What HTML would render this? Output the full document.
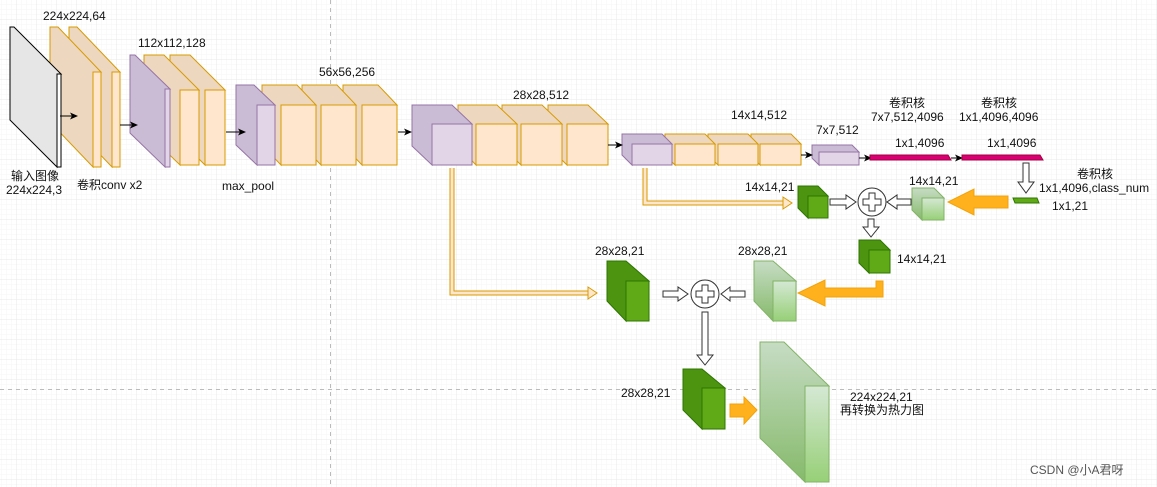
<!DOCTYPE html>
<html><head><meta charset="utf-8"><style>
body{margin:0;background:#fff}
svg{display:block}
text{font-family:"Liberation Sans","Noto Sans CJK SC",sans-serif;font-size:12px;fill:#111}
</style></head><body>
<svg width="1157" height="487" viewBox="0 0 1157 487" xmlns="http://www.w3.org/2000/svg">
<defs>
<pattern id="minor" x="-3" y="0" width="5" height="5" patternUnits="userSpaceOnUse"><path d="M5 0V5M0 5H5" stroke="#f6f6f6" stroke-width="1" fill="none"/></pattern>
<pattern id="major" x="-3" y="0" width="20" height="20" patternUnits="userSpaceOnUse"><path d="M20 0V20M0 20H20" stroke="#e8e8e8" stroke-width="1" fill="none"/></pattern>
<linearGradient id="lg" x1="0" y1="0" x2="0" y2="1"><stop offset="0" stop-color="#d5e8d4"/><stop offset="1" stop-color="#97d077"/></linearGradient>
<linearGradient id="lgs" x1="0" y1="0" x2="0" y2="1"><stop offset="0" stop-color="#c6dcc4"/><stop offset="1" stop-color="#86ba6b"/></linearGradient>
<marker id="ah" markerWidth="8" markerHeight="8" refX="7" refY="4" orient="auto" markerUnits="userSpaceOnUse"><path d="M0,0.5 L8,4 L0,7.5 L2,4z" fill="#000"/></marker>
</defs>
<rect width="1157" height="487" fill="url(#minor)"/>
<rect width="1157" height="487" fill="url(#major)"/>
<line x1="330.5" y1="0" x2="330.5" y2="487" stroke="#bbb" stroke-dasharray="4,4"/>
<line x1="0" y1="389.5" x2="1157" y2="389.5" stroke="#bbb" stroke-dasharray="4,4"/>

<g stroke="#d79b00" stroke-width="1">
<!-- pool6 -->
<polygon points="812,145 852,145 859,152 819,152 819,165 812,158" fill="#cbbcd5" stroke="#9673a6"/><rect x="819" y="152" width="40" height="13" fill="#e1d5e7" stroke="#9673a6"/>
<!-- block5 reversed -->
<polygon points="751,134 791,134 801,144 760,144 760,165 751,155" fill="#eed7bf"/><rect x="760" y="144" width="41" height="21" fill="#ffe6cc"/>
<polygon points="708,134 748,134 758,144 718,144 718,165 708,155" fill="#eed7bf"/><rect x="718" y="144" width="40" height="21" fill="#ffe6cc"/>
<polygon points="665,134 705,134 715,144 675,144 675,165 665,155" fill="#eed7bf"/><rect x="675" y="144" width="40" height="21" fill="#ffe6cc"/>
<polygon points="622,134 662,134 672,144 632,144 632,165 622,155" fill="#cbbcd5" stroke="#9673a6"/><rect x="632" y="144" width="40" height="21" fill="#e1d5e7" stroke="#9673a6"/>
<!-- block4 reversed -->
<polygon points="548,105 588,105 608,124 567,124 567,165 548,146" fill="#eed7bf"/><rect x="567" y="124" width="41" height="41" fill="#ffe6cc"/>
<polygon points="502,105 542,105 562,124 521,124 521,165 502,146" fill="#eed7bf"/><rect x="521" y="124" width="41" height="41" fill="#ffe6cc"/>
<polygon points="458,105 497,105 517,124 476,124 476,165 458,146" fill="#eed7bf"/><rect x="476" y="124" width="41" height="41" fill="#ffe6cc"/>
<polygon points="412,105 452,105 472,124 432,124 432,165 412,146" fill="#cbbcd5" stroke="#9673a6"/><rect x="432" y="124" width="40" height="41" fill="#e1d5e7" stroke="#9673a6"/>
<!-- block3 reversed -->
<polygon points="343,85 378,85 397,105 362,105 362,165 343,145" fill="#eed7bf"/><rect x="362" y="105" width="35" height="60" fill="#ffe6cc"/>
<polygon points="302,85 337,85 356,105 321,105 321,165 302,145" fill="#eed7bf"/><rect x="321" y="105" width="35" height="60" fill="#ffe6cc"/>
<polygon points="262,85 297,85 316,105 281,105 281,165 262,145" fill="#eed7bf"/><rect x="281" y="105" width="35" height="60" fill="#ffe6cc"/>
<polygon points="236,85 254,85 275,105 257,105 257,165 236,145" fill="#cbbcd5" stroke="#9673a6"/><rect x="257" y="105" width="18" height="60" fill="#e1d5e7" stroke="#9673a6"/>
<!-- block2 reversed -->
<polygon points="170,55 190,55 225,90 205,90 205,165 170,130" fill="#eed7bf"/><rect x="205" y="90" width="20" height="75" fill="#ffe6cc"/>
<polygon points="144,55 164,55 199,90 180,90 180,165 144,130" fill="#eed7bf"/><rect x="180" y="90" width="19" height="75" fill="#ffe6cc"/>
<polygon points="130,55 135,55 170,89 165,89 165,167 130,133" fill="#cbbcd5" stroke="#9673a6"/><rect x="165" y="89" width="5" height="78" fill="#e1d5e7" stroke="#9673a6"/>
<!-- conv1 reversed -->
<polygon points="69,27 77,27 120,72 112,72 112,167 69,122" fill="#eed7bf"/><rect x="112" y="72" width="8" height="95" fill="#ffe6cc"/>
<polygon points="50,27 58,27 101,72 93,72 93,167 50,122" fill="#eed7bf"/><rect x="93" y="72" width="8" height="95" fill="#ffe6cc"/>
</g>
<!-- input -->
<polygon points="10,27 14,27 61,74 57,74 57,167 10,120" fill="#e6e6e6" stroke="#000"/>
<rect x="57" y="74" width="4" height="93" fill="#fff" stroke="#000"/>

<!-- black arrows -->
<g stroke="#000" stroke-width="1" marker-end="url(#ah)">
<line x1="60" y1="116" x2="77" y2="116"/>
<line x1="120" y1="125" x2="137" y2="125"/>
<line x1="226" y1="132" x2="245" y2="132"/>
<line x1="398" y1="132" x2="411" y2="132"/>
<line x1="608" y1="145" x2="622" y2="145"/>
<line x1="801" y1="155" x2="812" y2="155"/>
<line x1="859" y1="158" x2="871" y2="158"/>
<line x1="951" y1="158" x2="962" y2="158"/>
</g>
<!-- magenta bars -->
<polygon points="870,155 948,155 951,160 870,160" fill="#d80073" stroke="#a50040"/>
<polygon points="962,155 1040,155 1043,160 962,160" fill="#d80073" stroke="#a50040"/>
<!-- green small bar -->
<polygon points="1013,198 1037,198 1039,203 1015,203" fill="#60a917" stroke="#2d7600"/>

<!-- hollow arrows -->
<g fill="#fff" stroke="#333" stroke-width="1">
<polygon points="1023,163 1029,163 1029,182 1034,182 1026,193 1018,182 1023,182"/>
<polygon points="830,199 846,199 846,195 856,202 846,209 846,205 830,205"/>
<polygon points="911,199 897,199 897,195 887,202 897,209 897,205 911,205"/>
<polygon points="868,219 874,219 874,227 879,227 871,237 863,227 868,227"/>
<polygon points="663,291 678,291 678,287 688,294 678,301 678,297 663,297"/>
<polygon points="745,291 730,291 730,287 721,294 730,301 730,297 745,297"/>
<polygon points="702,312 708,312 708,355 713,355 705,365 697,355 702,355"/>
<circle cx="872" cy="202" r="14"/>
<circle cx="705" cy="294" r="14"/>
<path d="M869,193 h6 v6 h6 v6 h-6 v6 h-6 v-6 h-6 v-6 h6z"/>
<path d="M702,285 h6 v6 h6 v6 h-6 v6 h-6 v-6 h-6 v-6 h6z"/>
</g>

<!-- orange skip paths -->
<g fill="none" stroke-linejoin="miter">
<path d="M645,168 V203 H785" stroke="#d79b00" stroke-width="5"/>
<path d="M645,168 V203 H785" stroke="#ffe6cc" stroke-width="3"/>
<path d="M452,168 V293 H590" stroke="#d79b00" stroke-width="5"/>
<path d="M452,168 V293 H590" stroke="#ffe6cc" stroke-width="3"/>
</g>
<polygon points="783,197 792,203 783,209" fill="#ffe6cc" stroke="#d79b00"/>
<polygon points="588,287 597,293 588,299" fill="#ffe6cc" stroke="#d79b00"/>

<!-- orange thick arrows -->
<polygon points="1008,196 974,196 974,189 948,202 974,215 974,208 1008,208" fill="#ffb01d" stroke="#f0a30a"/>
<polygon points="876,281 883,281 883,297 825,297 825,306 798,293 825,280 825,288 876,288" fill="#ffb01d" stroke="#f0a30a"/>
<polygon points="730,404 744,404 744,397 757,410 744,424 744,417 730,417" fill="#ffb01d" stroke="#f0a30a"/>

<!-- green boxes -->
<g stroke="#2d7600">
<polygon points="798,186 818,186 828,196 808,196 808,218 798,208" fill="#4d9410"/><rect x="808" y="196" width="20" height="22" fill="#60a917"/>
<polygon points="859,240 880,240 890,250 869,250 869,273 859,263" fill="#4d9410"/><rect x="869" y="250" width="21" height="23" fill="#60a917"/>
<polygon points="607,261 626,261 649,281 626,281 626,321 607,301" fill="#4d9410"/><rect x="626" y="281" width="23" height="40" fill="#60a917"/>
<polygon points="683,369 702,369 725,388 702,388 702,429 683,410" fill="#4d9410"/><rect x="702" y="388" width="23" height="41" fill="#60a917"/>
</g>
<g stroke="#82b366">
<polygon points="912,188 934,188 944,198 922,198 922,220 912,210" fill="url(#lgs)"/><rect x="922" y="198" width="22" height="22" fill="url(#lg)"/>
<polygon points="754,261 773,261 796,281 773,281 773,321 754,301" fill="url(#lgs)"/><rect x="773" y="281" width="23" height="40" fill="url(#lg)"/>
<polygon points="760,342 784,342 829,386 805,386 805,482 760,438" fill="url(#lgs)"/><rect x="805" y="386" width="24" height="96" fill="url(#lg)"/>
</g>

<!-- labels -->
<text x="43" y="20">224x224,64</text>
<text x="138" y="47">112x112,128</text>
<text x="319" y="76">56x56,256</text>
<text x="513" y="99">28x28,512</text>
<text x="731" y="119">14x14,512</text>
<text x="816" y="134">7x7,512</text>
<text x="889" y="107">卷积核</text>
<text x="871" y="121">7x7,512,4096</text>
<text x="981" y="107">卷积核</text>
<text x="959" y="121">1x1,4096,4096</text>
<text x="895" y="147">1x1,4096</text>
<text x="987" y="147">1x1,4096</text>
<text x="1077" y="178">卷积核</text>
<text x="1039" y="192">1x1,4096,class_num</text>
<text x="1052" y="210">1x1,21</text>
<text x="909" y="185">14x14,21</text>
<text x="745" y="191">14x14,21</text>
<text x="897" y="263">14x14,21</text>
<text x="595" y="255">28x28,21</text>
<text x="738" y="255">28x28,21</text>
<text x="621" y="397">28x28,21</text>
<text x="850" y="401">224x224,21</text>
<text x="840" y="414">再转换为热力图</text>
<text x="11" y="180">输入图像</text>
<text x="6" y="194">224x224,3</text>
<text x="77" y="189">卷积conv x2</text>
<text x="222" y="190">max_pool</text>
<text x="1030" y="474" style="fill:#555">CSDN @小A君呀</text>
</svg>
</body></html>
